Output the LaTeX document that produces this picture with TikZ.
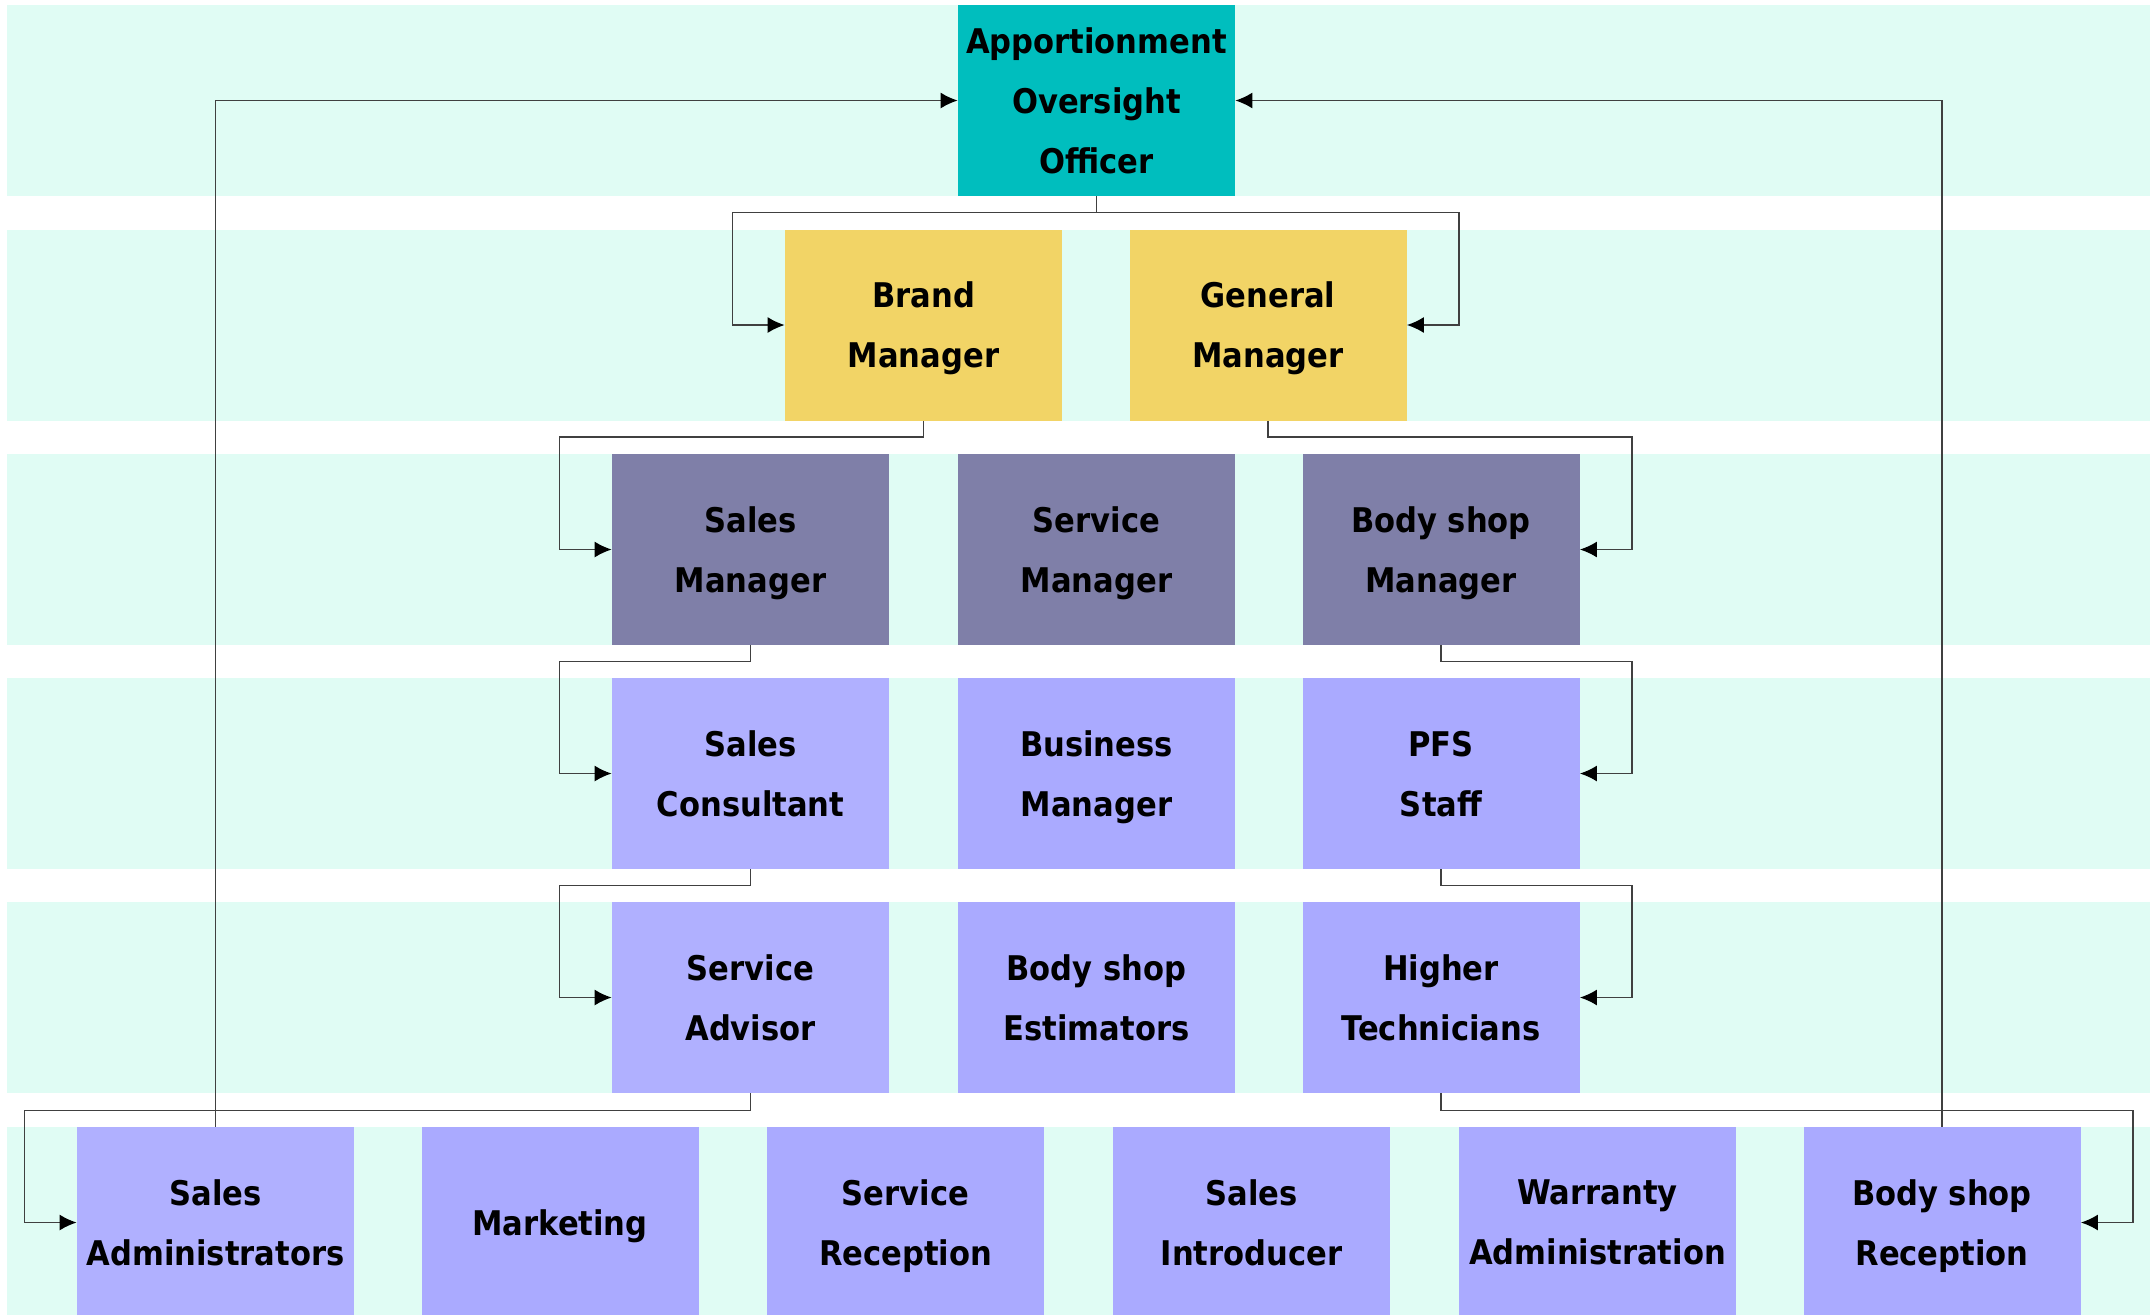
\documentclass[tikz,border=0pt]{standalone}
\usepackage{fontspec}
\setmainfont{DejaVu Sans Condensed}
\usetikzlibrary{arrows.meta}

\definecolor{bandcol}{HTML}{E0FCF4}
\definecolor{topcol}{HTML}{00BEBE}
\definecolor{mgrcol}{HTML}{F2D466}
\definecolor{deptcol}{HTML}{7F7FA8}
\definecolor{staffcol}{HTML}{AAAAFF}
\definecolor{stafflight}{HTML}{B0B0FF}

\begin{document}
\begin{tikzpicture}[x=0.5pt,y=-0.5pt]

    \tikzset{
      post/.style={
        inner sep=0pt,
        minimum width=138.5pt,
        minimum height=95.5pt,
        align=center,
        text depth=0pt,
        font=\bfseries\fontsize{17}{30}\selectfont,
      },
      officer/.style={post, fill=topcol},
      manager/.style={post, fill=mgrcol},
      dept/.style={post, fill=deptcol},
      staff/.style={post, fill=staffcol},
      stafflt/.style={post, fill=stafflight},
      link/.style={draw=black!75, line width=0.75pt, >={Latex[length=8.5pt,width=8pt,color=black]}, ->},
    }
    \useasboundingbox (0,0) rectangle (2152,1314);

    % background bands
    \foreach \y in {5,230,454,678,902,1127}
      \fill[bandcol] (7,\y) rectangle (2150,\y+191);

    \node[officer] (aoo) at (1096.5,100.5) {Apportionment\\Oversight\\Officer};

    \node[manager] (brand) at (923.5,325) {Brand\\Manager};
    \node[manager] (gm) at (1268,325) {General\\Manager};

    \node[dept] (salesm) at (750.5,549.5) {Sales\\Manager};
    \node[dept] (servm) at (1096.5,549.5) {Service\\Manager};
    \node[dept] (bodym) at (1441,549.5) {Body shop\\Manager};

    \node[stafflt] (salesc) at (750.5,773.5) {Sales\\Consultant};
    \node[staff] (busm) at (1096.5,773.5) {Business\\Manager};
    \node[staff] (pfs) at (1441,773.5) {PFS\\Staff};

    \node[stafflt] (adv) at (750.5,997.5) {Service\\Advisor};
    \node[staff] (est) at (1096.5,997.5) {Body shop\\Estimators};
    \node[staff] (tech) at (1441,997.5) {Higher\\Technicians};

    \node[stafflt] (admin) at (215.5,1222.5) {Sales\\Administrators};
    \node[staff] (mkt) at (560,1222.5) {Marketing};
    \node[staff] (recep) at (905.5,1222.5) {Service\\Reception};
    \node[staff] (intro) at (1251.5,1222.5) {Sales\\Introducer};
    \node[staff] (warr) at (1597.5,1222.5) {Warranty\\Administration};
    \node[staff] (bodyr) at (1942,1222.5) {Body shop\\Reception};

    % downward links
    \draw[link] (aoo.south) -- ++(0,16) -| ([xshift=-26pt]brand.west) -- (brand.west);
    \draw[link] (aoo.south) -- ++(0,16) -| ([xshift=26pt]gm.east) -- (gm.east);
    \draw[link] (brand.south) -- ++(0,16) -| ([xshift=-26pt]salesm.west) -- (salesm.west);
    \draw[link] (gm.south) -- ++(0,16) -| ([xshift=26pt]bodym.east) -- (bodym.east);
    \draw[link] (salesm.south) -- ++(0,16) -| ([xshift=-26pt]salesc.west) -- (salesc.west);
    \draw[link] (bodym.south) -- ++(0,16) -| ([xshift=26pt]pfs.east) -- (pfs.east);
    \draw[link] (salesc.south) -- ++(0,16) -| ([xshift=-26pt]adv.west) -- (adv.west);
    \draw[link] (pfs.south) -- ++(0,16) -| ([xshift=26pt]tech.east) -- (tech.east);
    \draw[link] (adv.south) -- ++(0,17) -| ([xshift=-26pt]admin.west) -- (admin.west);
    \draw[link] (tech.south) -- ++(0,17) -| ([xshift=26pt]bodyr.east) -- (bodyr.east);

    % links back up to the officer
    \draw[link] (admin.north) |- (aoo.west);
    \draw[link] (bodyr.north) |- (aoo.east);

\end{tikzpicture}
\end{document}
